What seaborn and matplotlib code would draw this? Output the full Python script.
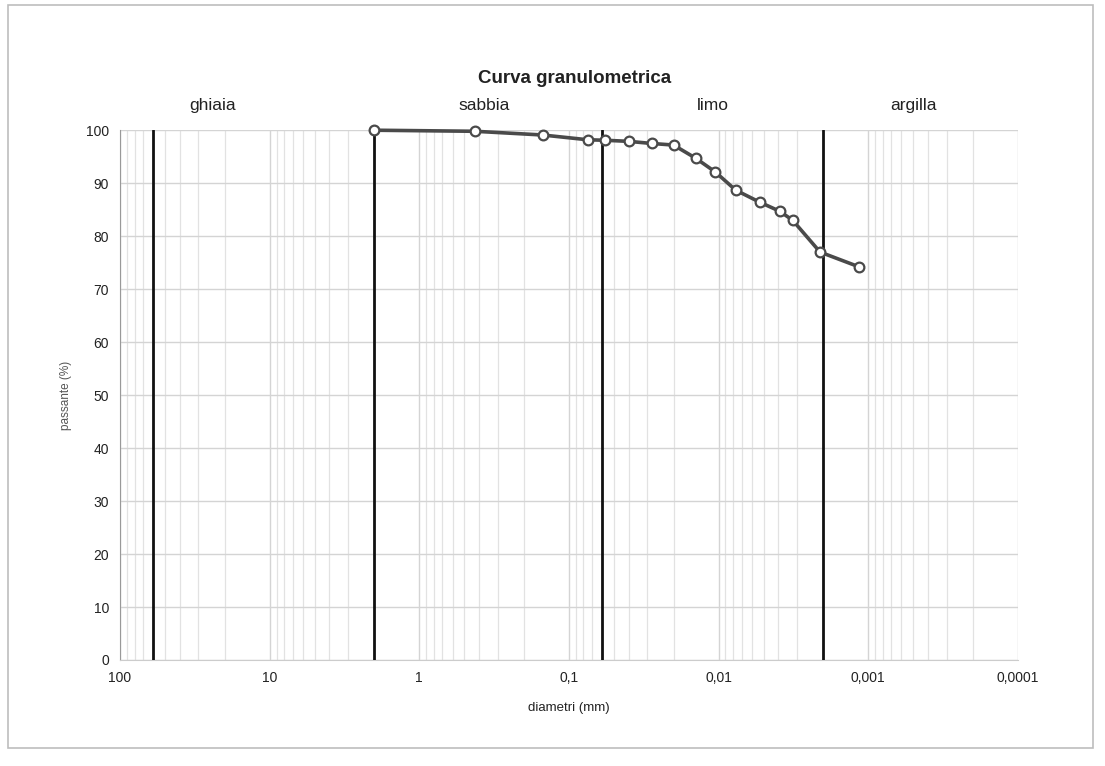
import numpy as np
import pandas as pd
import matplotlib
matplotlib.use("Agg")
import matplotlib.pyplot as plt
import matplotlib.ticker as mticker
from matplotlib.patches import Rectangle
import seaborn as sns

# grain size data (diameter in mm, passing %)
diametri = [2.0, 0.425, 0.15, 0.075, 0.057, 0.040, 0.028, 0.020, 0.0142, 0.0105,
            0.0077, 0.0053, 0.0039, 0.0032, 0.0021, 0.00115]
passante = [100.0, 99.8, 99.1, 98.2, 98.1, 97.9, 97.5, 97.2, 94.7, 92.1,
            88.7, 86.4, 84.7, 83.0, 77.0, 74.2]

# boundaries between classes and the class names
limiti = [60, 2, 0.06, 0.002]
classi = ["ghiaia", "sabbia", "limo", "argilla"]
pos_classi = [24, 0.37, 0.011, 0.0005]

x_ticks = [100, 10, 1, 0.1, 0.01, 0.001, 0.0001]
x_labels = ["100", "10", "1", "0,1", "0,01", "0,001", "0,0001"]
y_ticks = list(range(0, 101, 10))

sns.set_style("white")
plt.rcParams['font.family'] = ['Liberation Sans', 'DejaVu Sans']

fig = plt.figure(figsize=(11.05, 7.66), dpi=100)
ax = fig.add_axes([0.1086, 0.1384, 0.8126, 0.6916])

#Outer frame of the chart
fig.patches.append(Rectangle((8 / 1105, 18 / 766), 1085 / 1105, 743 / 766,
                             transform=fig.transFigure, fill=False,
                             edgecolor="#bdbdbd", linewidth=1.2))

ax.set_xscale("log")
ax.set_xlim(100, 0.0001)
ax.set_ylim(0, 100)

#Gridlines (log minor ones too)
ax.xaxis.set_minor_locator(mticker.LogLocator(base=10, subs=np.arange(2, 10)))
ax.grid(True, which="major", color="#d4d4d4", linewidth=1.0)
ax.grid(True, which="minor", axis="x", color="#e2e2e2", linewidth=0.9)

df = pd.DataFrame({"diametri": diametri, "passante": passante})
sns.lineplot(data=df, x="diametri", y="passante", ax=ax, sort=False,
             color="#4a4a4a", linewidth=2.6, marker="o", markersize=7,
             markerfacecolor="white", markeredgecolor="#4a4a4a",
             markeredgewidth=1.6, zorder=5)
for line in ax.lines:
    line.set_clip_on(False)

for lim in limiti:
    ax.axvline(lim, color="#111111", linewidth=2.0, zorder=4)

for nome, xp in zip(classi, pos_classi):
    ax.text(xp, 1.047, nome, transform=ax.get_xaxis_transform(),
            ha="center", va="center", fontsize=12.5, color="#222222")

ax.xaxis.set_major_locator(mticker.FixedLocator(x_ticks))
ax.xaxis.set_major_formatter(mticker.FixedFormatter(x_labels))
ax.xaxis.set_minor_formatter(mticker.NullFormatter())
ax.set_yticks(y_ticks)
ax.tick_params(axis="both", labelsize=10, colors="#222222", length=0, pad=8)

for s in ax.spines.values():
    s.set_visible(False)
ax.spines["left"].set_visible(True)
ax.spines["left"].set_color("#999999")
ax.spines["bottom"].set_visible(True)
ax.spines["bottom"].set_color("#cccccc")

ax.set_xlabel("diametri (mm)", fontsize=9.5, labelpad=12, color="#222222")
ax.set_ylabel("passante (%)", fontsize=8.5, labelpad=10, color="#555555")
fig.text(0.52, 0.897, "Curva granulometrica", ha="center", va="center",
         fontsize=13.5, fontweight="bold", color="#222222")

plt.savefig("out.png", dpi=100)
